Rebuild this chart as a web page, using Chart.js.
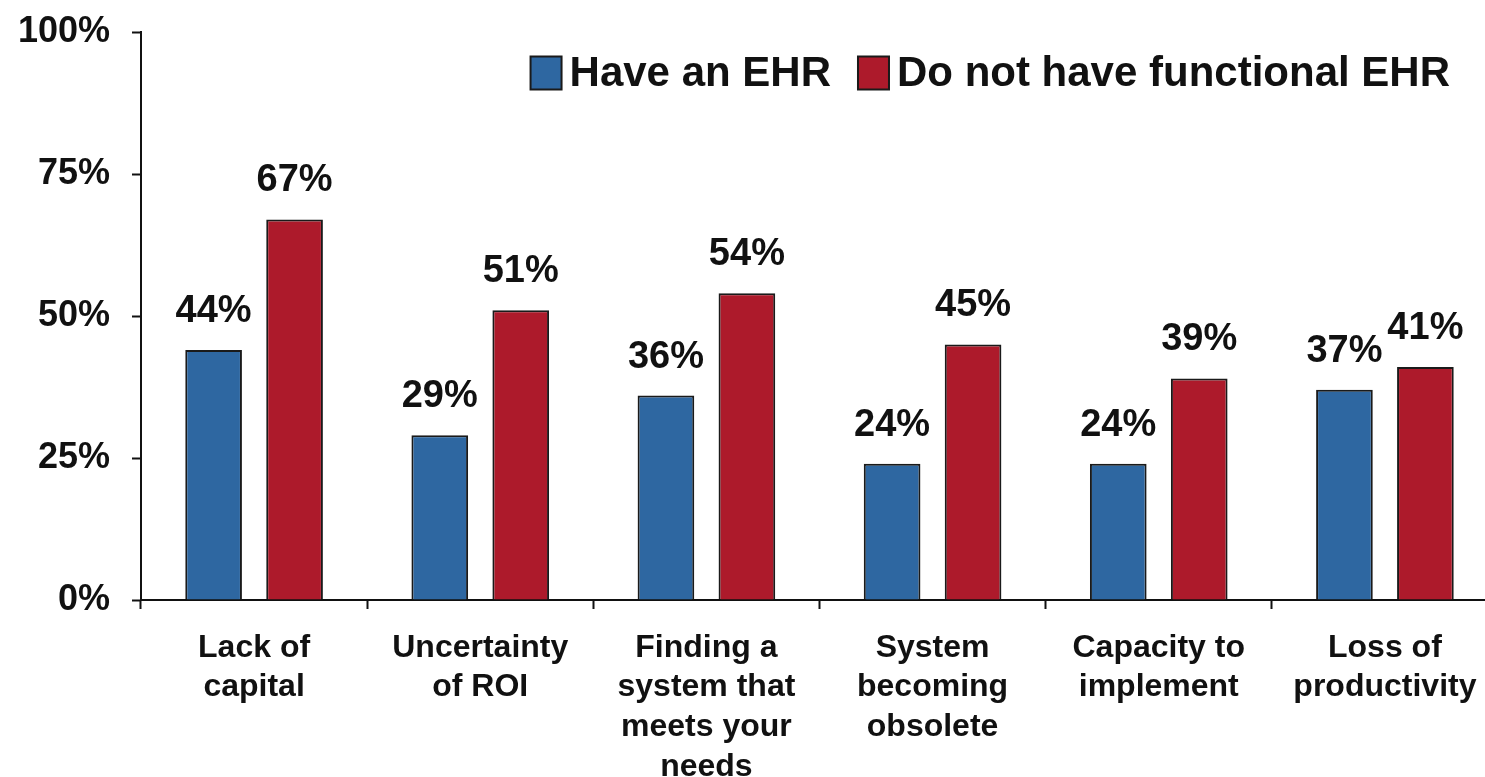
<!DOCTYPE html>
<html>
<head>
<meta charset="utf-8">
<script src="https://cdn.jsdelivr.net/npm/chart.js@4.4.1/dist/chart.umd.min.js"></script>
<style>
  html, body { margin: 0; padding: 0; background: #ffffff; overflow: hidden; }
  #wrap { width: 1500px; height: 777px; position: relative; }
</style>
</head>
<body>
<div id="wrap"><canvas id="c"></canvas></div>
<script>
const categories = [
  ["Lack of", "capital"],
  ["Uncertainty", "of ROI"],
  ["Finding a", "system that", "meets your", "needs"],
  ["System", "becoming", "obsolete"],
  ["Capacity to", "implement"],
  ["Loss of", "productivity"]
];
const seriesNames = ["Have an EHR", "Do not have functional EHR"];
const haveEHR = [44, 29, 36, 24, 24, 37];
const noFunctionalEHR = [67, 51, 54, 45, 39, 41];
const yTicks = [0, 25, 50, 75, 100];

const BLUE = '#2E67A1';
const RED = '#AD1A2B';
const FONT = "'Liberation Sans', Arial, sans-serif";

const labelPlugin = {
  id: 'valueLabels',
  afterDatasetsDraw(chart) {
    const ctx = chart.ctx;
    ctx.save();
    ctx.font = 'bold 38px ' + FONT;
    ctx.fillStyle = '#111111';
    ctx.textAlign = 'center';
    ctx.textBaseline = 'alphabetic';
    chart.data.datasets.forEach((ds, di) => {
      const meta = chart.getDatasetMeta(di);
      meta.data.forEach((bar, i) => {
        ctx.fillText(ds.data[i] + '%', bar.x, bar.y - 28);
      });
    });
    ctx.restore();
  }
};

const legendPlugin = {
  id: 'customLegend',
  afterDraw(chart) {
    const ctx = chart.ctx;
    ctx.save();
    ctx.font = 'bold 42px ' + FONT;
    const boxW = 31, boxH = 33, gapText = 8, gapItem = 27;
    const items = chart.data.datasets.map(ds => ({
      label: ds.label, color: ds.backgroundColor, w: ctx.measureText(ds.label).width
    }));
    let total = 0;
    items.forEach((it, i) => { total += boxW + gapText + it.w + (i < items.length - 1 ? gapItem : 0); });
    let x = chart.chartArea.right - 48 - total;
    const cy = 73;
    items.forEach(it => {
      ctx.fillStyle = it.color;
      ctx.fillRect(x, cy - boxH / 2, boxW, boxH);
      ctx.lineWidth = 2;
      ctx.strokeStyle = '#1a1a1a';
      ctx.strokeRect(x, cy - boxH / 2, boxW, boxH);
      x += boxW + gapText;
      ctx.fillStyle = '#111111';
      ctx.textAlign = 'left';
      ctx.textBaseline = 'middle';
      ctx.fillText(it.label, x, cy + 1);
      x += it.w + gapItem;
    });
    ctx.restore();
  }
};

new Chart(document.getElementById('c'), {
  type: 'bar',
  data: {
    labels: categories,
    datasets: [
      { label: seriesNames[0], data: haveEHR, backgroundColor: BLUE, borderColor: '#1a1a1a', borderWidth: 2 },
      { label: seriesNames[1], data: noFunctionalEHR, backgroundColor: RED, borderColor: '#1a1a1a', borderWidth: 2 }
    ]
  },
  options: {
    responsive: true,
    maintainAspectRatio: false,
    animation: false,
    events: [],
    layout: { padding: { top: 32, right: 2, left: 0, bottom: 0 } },
    categoryPercentage: 0.716,
    barPercentage: 0.70,
    plugins: {
      legend: { display: false },
      tooltip: { enabled: false }
    },
    scales: {
      x: {
        offset: true,
        grid: { offset: true, drawOnChartArea: false, drawTicks: true, tickLength: 9, tickColor: '#111111', tickWidth: 2 },
        border: { display: true, color: '#111111', width: 2 },
        ticks: {
          autoSkip: false, maxRotation: 0, minRotation: 0, padding: 19,
          color: '#111111',
          font: { family: FONT, size: 32, weight: 'bold', lineHeight: 1.24 }
        },
        afterFit(scale) { scale.height = 177; }
      },
      y: {
        min: 0, max: 100,
        afterBuildTicks(scale) { scale.ticks = yTicks.map(v => ({ value: v })); },
        grid: { drawOnChartArea: false, drawTicks: true, tickLength: 9, tickColor: '#111111', tickWidth: 2 },
        border: { display: true, color: '#111111', width: 2 },
        ticks: {
          padding: 22,
          color: '#111111',
          font: { family: FONT, size: 36, weight: 'bold' },
          callback: v => v + '%'
        },
        afterFit(scale) { scale.width = 141; scale.paddingTop = 0; scale.paddingBottom = 0; }
      }
    }
  },
  plugins: [labelPlugin, legendPlugin]
});
</script>
</body>
</html>
